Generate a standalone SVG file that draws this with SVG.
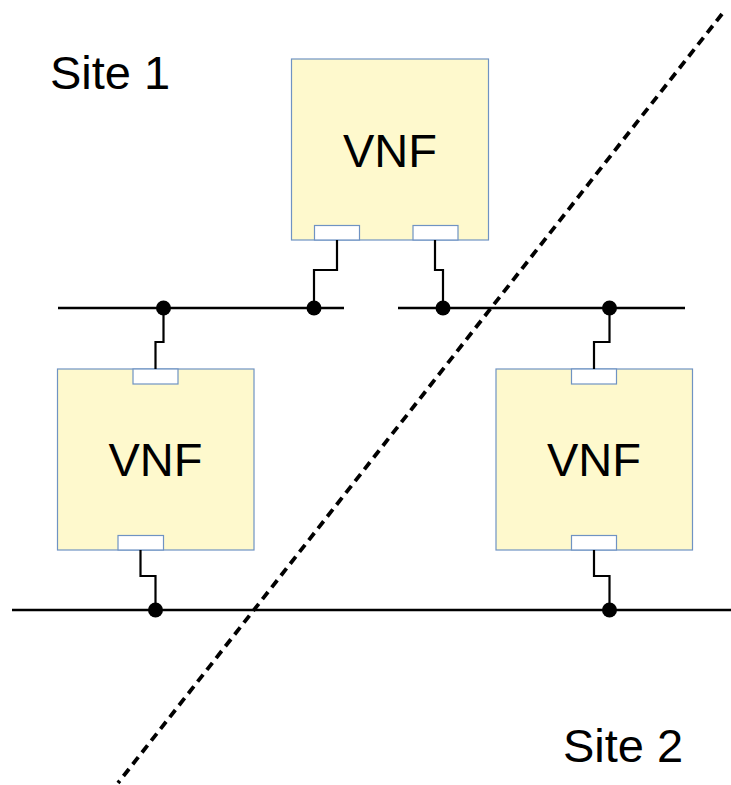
<svg xmlns="http://www.w3.org/2000/svg" width="731" height="785" viewBox="0 0 731 785">
<style>
.box{fill:#fef9cd;stroke:#6f93c3;stroke-width:1.2}
.port{fill:#ffffff;stroke:#6f93c3;stroke-width:1.2}
.lbl{font-family:"Liberation Sans",Arial,sans-serif;font-size:47px;fill:#000}
.bus{stroke:#000;stroke-width:2.6;fill:none}
.wire{stroke:#000;stroke-width:2.2;fill:none}
.dot{fill:#000}
</style>
<rect width="731" height="785" fill="#fff"/>
<text class="lbl" x="50" y="89">Site 1</text>
<text class="lbl" x="563" y="762">Site 2</text>
<g id="vnf-top">
<rect class="box" x="291.5" y="59" width="197" height="181"/>
<rect class="port" x="314.5" y="225.5" width="45" height="14.5"/>
<rect class="port" x="413" y="225.5" width="45" height="14.5"/>
<text class="lbl" x="390" y="167" text-anchor="middle">VNF</text>
</g>
<g id="vnf-left">
<rect class="box" x="57.5" y="369" width="196.5" height="181"/>
<rect class="port" x="133" y="369" width="45" height="15"/>
<rect class="port" x="118" y="535.5" width="45.5" height="14.5"/>
<text class="lbl" x="155.5" y="476" text-anchor="middle">VNF</text>
</g>
<g id="vnf-right">
<rect class="box" x="496" y="369" width="196.5" height="181"/>
<rect class="port" x="571.5" y="369" width="45" height="15"/>
<rect class="port" x="571.5" y="535.5" width="45" height="14.5"/>
<text class="lbl" x="594" y="476" text-anchor="middle">VNF</text>
</g>
<g id="connectors">
<line class="bus" x1="58" y1="308" x2="344" y2="308"/>
<line class="bus" x1="398" y1="308" x2="685" y2="308"/>
<line class="bus" x1="12" y1="610" x2="731" y2="610"/>
<polyline class="wire" points="337,240 337,270 314,270 314,308"/>
<polyline class="wire" points="435,240 435,270 443,270 443,308"/>
<polyline class="wire" points="163.5,308 163.5,342 155.5,342 155.5,369"/>
<polyline class="wire" points="140.5,550 140.5,576 155.5,576 155.5,610"/>
<polyline class="wire" points="609.5,308 609.5,342 594,342 594,369"/>
<polyline class="wire" points="594,550 594,576 609.5,576 609.5,610"/>
<circle class="dot" cx="163.5" cy="308" r="7.5"/>
<circle class="dot" cx="314" cy="308" r="7.5"/>
<circle class="dot" cx="443" cy="308" r="7.5"/>
<circle class="dot" cx="609.5" cy="308" r="7.5"/>
<circle class="dot" cx="155.5" cy="610" r="7.5"/>
<circle class="dot" cx="609.5" cy="610" r="7.5"/>
<line x1="722" y1="14" x2="118" y2="783" stroke="#000" stroke-width="3.8" stroke-dasharray="9 6"/>
</g>
</svg>
